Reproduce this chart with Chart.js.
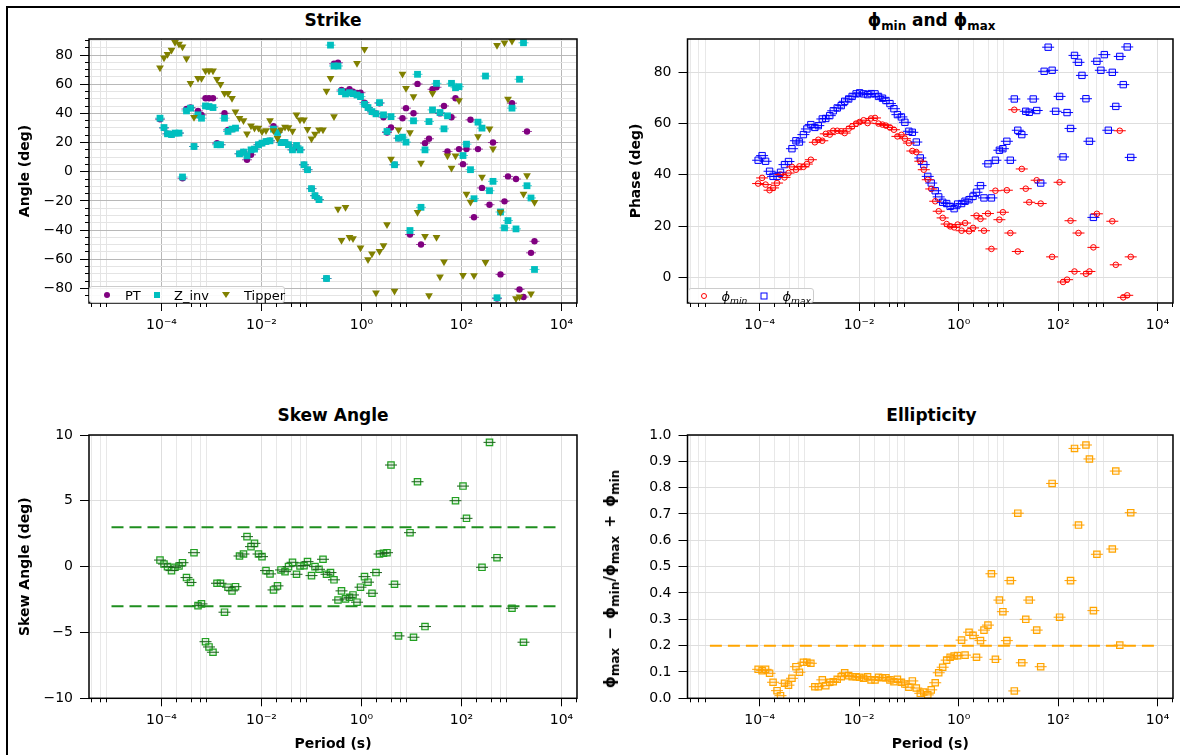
<!DOCTYPE html>
<html>
<head>
<meta charset="utf-8">
<script src="https://cdn.jsdelivr.net/npm/chart.js@4.4.1/dist/chart.umd.min.js"></script>
<style>
  body { margin: 0; background: #fff; width: 1180px; height: 755px; overflow: hidden; position: relative; font-family: 'DejaVu Sans', sans-serif; color: #000; }
  .frame { position: absolute; left: 6px; top: 6px; width: 1190px; height: 770px; border: 2px solid #000; box-sizing: border-box; }
  canvas { position: absolute; }
  .ptitle { position: absolute; width: 488px; text-align: center; font-weight: bold; font-size: 17px; line-height: 20px; }
  sub { font-size: 0.7em; line-height: 0; }
  .ylab { position: absolute; transform: translate(-50%, -50%) rotate(-90deg); white-space: nowrap; font-weight: bold; font-size: 15px; word-spacing: 3px; }
  .ylab sub { font-size: 0.8em; }
  .legend { position: absolute; background: rgba(255,255,255,0.8); border: 1px solid #ccc; border-radius: 3px; box-sizing: border-box; font-size: 13px; }
  .legend .txt { position: absolute; top: 50%; transform: translateY(-50%); white-space: nowrap; }
  .legend .sym { position: absolute; top: 50%; transform: translate(-50%, -50%); box-sizing: border-box; }
</style>
</head>
<body>
<div class="frame"></div>

<div class="ptitle" style="left:89px; top:10px;">Strike</div>
<div class="ptitle" style="left:687.5px; top:10px;">ϕ<sub>min</sub> and ϕ<sub>max</sub></div>
<div class="ptitle" style="left:89px; top:405px;">Skew Angle</div>
<div class="ptitle" style="left:687.5px; top:405px;">Ellipticity</div>

<canvas id="strikeChart" width="580" height="320" style="left:10px; top:30px;"></canvas>
<canvas id="phaseChart" width="572" height="320" style="left:608px; top:30px;"></canvas>
<canvas id="skewChart" width="580" height="329" style="left:10px; top:426px;"></canvas>
<canvas id="ellipChart" width="590" height="329" style="left:590px; top:426px;"></canvas>

<div class="ylab" style="left:610px; top:579px;">ϕ<sub>max</sub> − ϕ<sub>min</sub>/ϕ<sub>max</sub> + ϕ<sub>min</sub></div>

<div class="legend" style="left:89px; top:286px; width:196px; height:17px;">
  <div class="sym" style="left:17px; width:6px; height:6px; border-radius:50%; background:#800080;"></div>
  <span class="txt" style="left:35px;">PT</span>
  <div class="sym" style="left:67px; width:6px; height:6px; background:#00bfbf;"></div>
  <span class="txt" style="left:84px;">Z_inv</span>
  <div class="sym" style="left:136px; width:0; height:0; border-left:4px solid transparent; border-right:4px solid transparent; border-top:6px solid #808000;"></div>
  <span class="txt" style="left:154px;">Tipper</span>
</div>

<div class="legend" style="left:687.5px; top:288px; width:126px; height:15px;">
  <div class="sym" style="left:15px; width:6px; height:6px; border-radius:50%; border:1px solid #ff0000;"></div>
  <span class="txt" style="left:33px; font-style:italic;">ϕ<sub>min</sub></span>
  <div class="sym" style="left:75.5px; width:7px; height:7px; border:1px solid #0000ff;"></div>
  <span class="txt" style="left:94px; font-style:italic;">ϕ<sub>max</sub></span>
</div>

<script>
// log10 of the periods (s)
const logPeriods = [
  -4.03, -3.95, -3.88, -3.80, -3.73, -3.65, -3.58, -3.50, -3.42, -3.35,
  -3.27, -3.20, -3.12, -3.05, -2.97, -2.89, -2.82, -2.74, -2.67, -2.59,
  -2.52, -2.44, -2.36, -2.29, -2.21, -2.14, -2.06, -1.99, -1.91, -1.83,
  -1.76, -1.68, -1.61, -1.53, -1.46, -1.38, -1.30, -1.23, -1.15, -1.08,
  -1.00, -0.93, -0.85, -0.77, -0.70, -0.62, -0.55, -0.47, -0.40, -0.32,
  -0.24, -0.17, -0.09, -0.02, 0.06, 0.13, 0.21, 0.29, 0.36, 0.44,
  0.51, 0.59, 0.66, 0.74, 0.82, 0.89, 0.97, 1.04, 1.12, 1.19,
  1.27, 1.35, 1.42, 1.50, 1.57, 1.65, 1.72, 1.80, 1.88, 1.95,
  2.03, 2.10, 2.18, 2.25, 2.33, 2.41, 2.48, 2.56, 2.63, 2.71,
  2.78, 2.86, 2.93, 3.01, 3.09, 3.16, 3.24, 3.31, 3.39, 3.46
];
const periods = logPeriods.map(v => Math.pow(10, v));

// Strike (deg)
const strikePT = [
  36, 30, 26, 25.5, 26.5, 26.5, -4.5, 43, 44, 17.3,
  41.7, 39, 50.4, 50.4, 50.4, 19.6, 18.5, 40.1, 28.7, 29.2,
  29.9, 12.3, 13.5, 8.2, 11.6, 15.5, 18.5, 19.6, 20.7, 21.2,
  31.2, 27, 20, 20, 18.5, 15, 17, 15, 4.8, 1.4,
  -11.6, -16.4, -19.1, null, -73.2, null, 74, 74.7, 56, 55,
  56.5, 54.9, 54, 54.2, 47.4, 44, 41, 40, 47, 37.4,
  26.9, 30.3, 4.8, 23, 36.7, 43.6, -43.1, 40.1, 60.2, -49.9,
  19.6, 22.6, 56.5, 57.9, 40, 45.1, 13.9, 37.4, 50.4, 15.5,
  5.2, 15.5, 35.6, -31.2, 15.5, -11.1, null, -22.6, 20, -87,
  -70.4, -20.3, -3.2, 47, -5.0, -80.7, -85.9, 27.6, -55.6, -47.7
];
const strikeZinv = [
  36.7, 30.3, 26.0, 25.5, 26.5, 26.5, -3.6, 41.7, 43.6, 17.3,
  39.0, 36.7, 45.1, 44.7, 44.0, 18.5, 18.5, 36.7, 27.6, 29.2,
  29.9, 12.3, 13.5, 10.9, 15.0, 15.5, 18.5, 19.6, 20.7, 21.2,
  29.2, 26.9, 20.0, 20.0, 18.5, 15.0, 18.0, 15.0, 4.8, 1.4,
  -11.6, -16.4, -19.1, null, -73.2, 86.8, 72.5, 72.5, 54.9, 53.3,
  54.2, 53.5, 52.6, 51.5, 46.3, 44.0, 41.2, 39.7, 47.4, 39.0,
  27.6, 37.8, 4.8, 23.0, 23.7, 20.3, -40.3, 34.9, 66.8, -24.4,
  15.0, 34.4, 42.4, 60.6, 40.6, 29.4, 38.3, 60.6, 57.6, 58.3,
  11.1, 18.9, 1.4, -18.5, 34.0, 29.9, 65.6, -13.0, -6.6, -86.4,
  -27.6, -38.5, -33.5, 43.6, -39.2, 63.4, 88.4, -9.6, -18.0, -67.0
];
const strikeTipper = [
  71.3, 78.2, 80.5, 83.4, 88.7, 87.5, 85.7, 77.7, 60.6, 37.4,
  64.1, 64.1, 69.3, 69.3, 69.3, 63.4, 60.0, 53.8, 53.8, 50.4,
  41.2, 36.7, 35.1, 26.0, 31.5, 29.9, 29.9, 27.6, 28.2, 35.1,
  28.2, 23.0, 28.7, 30.6, 30.3, 28.0, 39.0, 35.6, 35.6, 29.2,
  22.6, 25.8, 28.7, 28.7, 55.4, 64.1, 37.8, -25.5, -47.0, -24.4,
  -44.9, -45.8, 74.3, -52.2, 83.9, -60.2, -56.3, -82.9, -54.5, -50.6,
  -36.2, 8.7, -81.8, 28.7, 67.0, 57.2, 26.9, 51.5, -27.8, 5.9,
  -44.2, -84.8, 53.8, -44.9, -72.0, -61.7, 10.9, 2.5, 10.9, 48.8,
  -70.9, -15.2, -20.7, -71.1, 24.1, -3.6, -62.0, 29.4, 15.7, 86.8,
  -27.6, 88.4, 49.9, 89.6, -87.0, -85.7, -15.2, -2.5, -83.6, -21.0
];

// Phase tensor phi_min / phi_max (deg)
const phiMin = [
  36.6, 38.8, 36.2, 34.0, 34.9, 36.8, 40.1, 39.0, 40.7, 43.1,
  42.0, 43.3, 43.1, 44.2, 45.9, 52.7, 53.7, 53.3, 56.0, 55.7,
  57.2, 57.2, 57.0, 56.3, 58.0, 58.9, 60.0, 60.6, 61.3, 60.2,
  62.0, 62.2, 60.0, 59.6, 59.2, 58.5, 57.6, 55.0, 55.6, 54.1,
  52.4, 49.3, 48.9, 45.3, 42.0, 38.1, 34.5, 29.7, 25.8, 23.2,
  20.8, 19.9, 19.5, 20.6, 18.2, 21.2, 18.0, 19.3, 24.1, 22.8,
  18.2, 24.9, 11.1, 33.8, 22.5, 25.4, 34.0, 17.3, 65.4, 10.1,
  42.3, 34.6, 29.3, null, 37.9, 28.8, null, null, 8.0, null,
  37.1, -1.8, -0.9, 22.1, 2.3, 17.3, null, 1.4, 2.3, 11.7,
  24.8, null, null, null, 21.9, 4.9, 57.2, -7.8, -7.0, 8.0
];
const phiMax = [
  45.7, 47.5, 45.3, 41.4, 39.4, 39.4, 41.0, 44.0, 45.2, 50.2,
  53.3, 52.8, 55.7, 57.9, 59.6, 58.5, 59.2, 61.8, 62.0, 63.1,
  65.0, 66.1, 67.0, 68.7, 69.6, 70.6, 71.6, 72.0, 71.6, 71.3,
  71.7, 71.6, 70.6, 69.9, 69.0, 67.8, 65.8, 63.5, 62.6, 60.5,
  57.0, 56.6, 52.8, 46.6, 44.0, 39.4, 36.8, 33.8, 31.4, 29.3,
  28.8, 27.7, 26.8, 28.6, 28.8, 29.7, 30.3, 31.6, 33.2, 35.8,
  31.0, 44.3, 31.0, 45.7, 49.6, 50.2, 53.1, 45.7, 69.6, 57.4,
  55.7, 64.8, 64.4, 69.6, 65.1, 36.8, 80.4, 89.8, 80.8, 64.8,
  70.6, 47.0, 64.3, 58.1, 86.6, 83.9, 78.8, 69.7, 53.1, 23.4,
  84.3, 80.8, 86.9, 57.4, 80.0, 66.7, 86.2, 75.2, 89.9, 46.8
];

// Skew angle (deg)
const skewAngle = [
  0.5, 0.2, 0, -0.3, -0.05, 0.05, 0.3, -0.83, -1.2, 1.06,
  -2.96, -2.83, -5.7, -6.1, -6.5, -1.26, -1.26, -3.46, -1.56, -1.84,
  -1.52, 0.81, 0.96, 2.28, 1.52, 1.77, 0.96, 0.76, -0.3, -0.55,
  -1.77, -1.46, -0.25, -0.38, 0, 0.33, -0.58, 0.05, 0.08, 0.38,
  -0.68, 0, -0.2, 0.56, -0.58, -0.45, -1.0, -2.53, -1.84, -2.45,
  -2.33, -2.15, -2.7, -1.56, -0.76, -1.18, -2.02, -0.45, 0.96, 1.02,
  1.06, 7.72, -1.34, -5.26, null, null, 2.58, -5.36, 6.45, null,
  -4.55, null, null, null, null, null, null, null, 5.01, null,
  6.12, 3.67, null, null, null, -0.05, null, 9.44, null, 0.68,
  null, null, null, -3.16, null, null, -5.74, null, null, null
];

// Ellipticity
const ellipticity = [
  0.110, 0.105, 0.110, 0.095, 0.061, 0.029, 0.010, 0.057, 0.050, 0.076,
  0.120, 0.099, 0.137, 0.137, 0.133, 0.044, 0.044, 0.070, 0.048, 0.061,
  0.063, 0.072, 0.082, 0.097, 0.086, 0.082, 0.082, 0.080, 0.076, 0.082,
  0.070, 0.070, 0.080, 0.078, 0.078, 0.070, 0.063, 0.072, 0.061, 0.054,
  0.042, 0.066, 0.039, 0.019, 0.024, 0.013, 0.032, 0.059, 0.097, 0.118,
  0.145, 0.156, 0.161, 0.162, 0.221, 0.164, 0.251, 0.239, 0.156, 0.219,
  0.259, 0.278, 0.473, 0.148, 0.373, 0.329, 0.219, 0.447, 0.028, 0.703,
  0.135, 0.300, 0.373, null, 0.259, 0.120, null, null, 0.816, null,
  0.308, null, null, 0.447, 0.949, 0.658, null, 0.962, 0.909, 0.333,
  0.547, null, null, null, 0.567, 0.863, 0.202, null, null, 0.705
];

// Reference lines
const skewLimits = [3, -3];
const ellipLimit = 0.2;
const limitSpan = [1e-5, 1e4];

// Ticks
const xMajorTicks = [1e-4, 1e-2, 1, 1e2, 1e4];
const xMajorLabels = ["10⁻⁴", "10⁻²", "10⁰", "10²", "10⁴"];
const xMinorTicks = [4e-6, 6e-6, 8e-6, 2e-4, 4e-4, 6e-4, 8e-4, 2e-2, 4e-2, 6e-2, 8e-2,
  2, 4, 6, 8, 200, 400, 600, 800, 2e4];
const strikeTicks = [-80, -60, -40, -20, 0, 20, 40, 60, 80];
const strikeMinorTicks = [-85, -75, -70, -65, -55, -50, -45, -35, -30, -25, -15, -10, -5,
  5, 10, 15, 25, 30, 35, 45, 50, 55, 65, 70, 75, 85, 90];
const phaseTicks = [0, 20, 40, 60, 80];
const skewTicks = [-10, -5, 0, 5, 10];
const ellipTicks = [0, 0.1, 0.2, 0.3, 0.4, 0.5, 0.6, 0.7, 0.8, 0.9, 1.0];

const X_MIN = Math.pow(10, -5.45);
const X_MAX = Math.pow(10, 4.31);

Chart.defaults.font.family = "'DejaVu Sans', sans-serif";
Chart.defaults.font.size = 14;
Chart.defaults.color = "#000";

// full box around the axes, like matplotlib spines
const boxPlugin = {
    id: "axesBox",
    afterDatasetsDraw(chart) {
        const a = chart.chartArea;
        const ctx = chart.ctx;
        ctx.save();
        ctx.strokeStyle = "#000";
        ctx.lineWidth = 1.5;
        ctx.strokeRect(a.left, a.top, a.right - a.left, a.bottom - a.top);
        ctx.restore();
    }
};

const minusFmt = v => (v < 0 ? "\u2212" + (-v) : String(v));

// fixed axis sizes, no extra label padding
function fixSize(s, w, h) {
    if (w !== null) s.width = w;
    if (h !== null) s.height = h;
    s.paddingTop = 0;
    s.paddingBottom = 0;
    s.paddingLeft = 0;
    s.paddingRight = 0;
}

function pts(values) {
    const out = [];
    values.forEach((v, i) => {
        if (v !== null) out.push({ x: periods[i], y: v });
    });
    return out;
}

function errBars(values, color, order, radius) {
    return {
        data: pts(values), xAxisID: "x", yAxisID: "y",
        pointStyle: "line", pointRadius: radius || 6, borderColor: color, borderWidth: 1, order: order
    };
}

function xAxes(height, title, majorGrid, minorGrid) {
    return {
        x: {
            type: "logarithmic", position: "bottom", weight: 1, min: X_MIN, max: X_MAX,
            afterBuildTicks: s => { s.ticks = xMajorTicks.map(v => ({ value: v })); },
            afterFit: s => fixSize(s, null, height),
            ticks: { autoSkip: false, maxRotation: 0, padding: 6, callback: (v, i) => xMajorLabels[i] },
            grid: { color: majorGrid, tickColor: "#000", tickLength: 8 },
            border: { display: false },
            title: title
                ? { display: true, text: title, font: { size: 14, weight: "bold" }, padding: { top: 0, bottom: 2.6 } }
                : { display: false }
        },
        xMinor: {
            type: "logarithmic", position: "bottom", weight: 0, min: X_MIN, max: X_MAX,
            afterBuildTicks: s => { s.ticks = xMinorTicks.map(v => ({ value: v })); },
            afterFit: s => fixSize(s, null, 0),
            ticks: { display: false, autoSkip: false },
            grid: { color: minorGrid, tickColor: "#000", tickLength: 4 },
            border: { display: false }
        }
    };
}

function yAxis(o) {
    return {
        position: "left", weight: 1, min: o.min, max: o.max,
        afterBuildTicks: s => { s.ticks = o.ticks.map(v => ({ value: v })); },
        afterFit: s => fixSize(s, o.width, null),
        ticks: { padding: 7, callback: o.fmt },
        grid: { color: o.grid, tickColor: "#000", tickLength: 9 },
        border: { display: false },
        title: o.title
            ? { display: true, text: o.title, font: { size: 14, weight: "bold" }, padding: { top: o.titlePad, bottom: 0 } }
            : { display: false }
    };
}

function makeChart(id, datasets, scales, padRight) {
    return new Chart(document.getElementById(id), {
        type: "scatter",
        data: { datasets: datasets },
        options: {
            responsive: false,
            animation: false,
            events: [],
            layout: { padding: { top: 9, right: padRight, bottom: 0, left: 0 } },
            plugins: { legend: { display: false }, tooltip: { enabled: false } },
            scales: scales
        },
        plugins: [boxPlugin]
    });
}

// Strike
const strikeScales = Object.assign(xAxes(47, null, "#b8b8b8", "#e4e4e4"), {
    y: yAxis({ min: -90, max: 91, ticks: strikeTicks, fmt: minusFmt, width: 79, grid: "#b8b8b8", title: "Angle (deg)", titlePad: 6.6 }),
    yMinor: {
        position: "left", weight: 0, min: -90, max: 91,
        afterBuildTicks: s => { s.ticks = strikeMinorTicks.map(v => ({ value: v })); },
        afterFit: s => fixSize(s, 0, null),
        ticks: { display: false },
        grid: { color: "#e4e4e4", tickColor: "#000", tickLength: 4 },
        border: { display: false }
    }
});
makeChart("strikeChart", [
    { data: pts(strikeTipper), xAxisID: "x", yAxisID: "y", pointStyle: "triangle", rotation: 180, pointRadius: 4.5,
      backgroundColor: "#808000", borderColor: "#808000", borderWidth: 0, order: 0 },
    { data: pts(strikeZinv), xAxisID: "x", yAxisID: "y", pointStyle: "rect", pointRadius: 4.8,
      backgroundColor: "#00bfbf", borderColor: "#00bfbf", borderWidth: 0, order: 1 },
    { data: pts(strikePT), xAxisID: "x", yAxisID: "y", pointStyle: "circle", pointRadius: 3.2,
      backgroundColor: "#800080", borderColor: "#800080", borderWidth: 0, order: 2 },
    errBars(strikeZinv, "rgba(0,191,191,0.7)", 3, 5),
    errBars(strikePT, "rgba(128,0,128,0.7)", 4, 5)
], strikeScales, 13);

// Phase
const phaseScales = Object.assign(xAxes(47, null, "#dedede", "#e8e8e8"), {
    y: yAxis({ min: -10, max: 93, ticks: phaseTicks, fmt: minusFmt, width: 79.5, grid: "#dedede", title: "Phase (deg)", titlePad: 19.6 })
});
makeChart("phaseChart", [
    errBars(phiMin, "#ff0000", 0, 6),
    errBars(phiMax, "#0000ff", 1, 6),
    { data: pts(phiMin), xAxisID: "x", yAxisID: "y", pointStyle: "circle", pointRadius: 2.8,
      backgroundColor: "rgba(255,0,0,0.08)", borderColor: "#ff0000", borderWidth: 1, order: 2 },
    { data: pts(phiMax), xAxisID: "x", yAxisID: "y", pointStyle: "rect", pointRadius: 4.5,
      backgroundColor: "rgba(0,0,255,0.08)", borderColor: "#0000ff", borderWidth: 1, order: 3 }
], phaseScales, 4.5);

// Skew
const skewScales = Object.assign(xAxes(56.7, "Period (s)", "#dedede", "#e8e8e8"), {
    y: yAxis({ min: -10, max: 10, ticks: skewTicks, fmt: minusFmt, width: 79, grid: "#dedede", title: "Skew Angle (deg)", titlePad: 6.6 })
});
const skewLineSets = skewLimits.map(lim => ({
    data: limitSpan.map(x => ({ x: x, y: lim })), xAxisID: "x", yAxisID: "y",
    showLine: true, pointRadius: 0, borderColor: "#1f8f1f", borderWidth: 2, borderDash: [12, 6], order: -1
}));
makeChart("skewChart", skewLineSets.concat([
    errBars(skewAngle, "#1d5e1d", 0, 6),
    { data: pts(skewAngle), xAxisID: "x", yAxisID: "y", pointStyle: "rect", pointRadius: 4.5,
      backgroundColor: "rgba(34,160,34,0.15)", borderColor: "#22a022", borderWidth: 1.2, order: 1 }
]), skewScales, 13);

// Ellipticity
const ellipScales = Object.assign(xAxes(56.7, "Period (s)", "#dedede", "#e8e8e8"), {
    y: yAxis({ min: 0, max: 1.0, ticks: ellipTicks, fmt: v => v.toFixed(1), width: 97.5, grid: "#dedede", title: null })
});
makeChart("ellipChart", [
    { data: limitSpan.map(x => ({ x: x, y: ellipLimit })), xAxisID: "x", yAxisID: "y",
      showLine: true, pointRadius: 0, borderColor: "#ffa500", borderWidth: 2, borderDash: [12, 6], order: -1 },
    errBars(ellipticity, "#ff9f00", 0, 6),
    { data: pts(ellipticity), xAxisID: "x", yAxisID: "y", pointStyle: "rect", pointRadius: 4.5,
      backgroundColor: "rgba(255,165,0,0.15)", borderColor: "#ffa500", borderWidth: 1.2, order: 1 }
], ellipScales, 4.5);
</script>
</body>
</html>
